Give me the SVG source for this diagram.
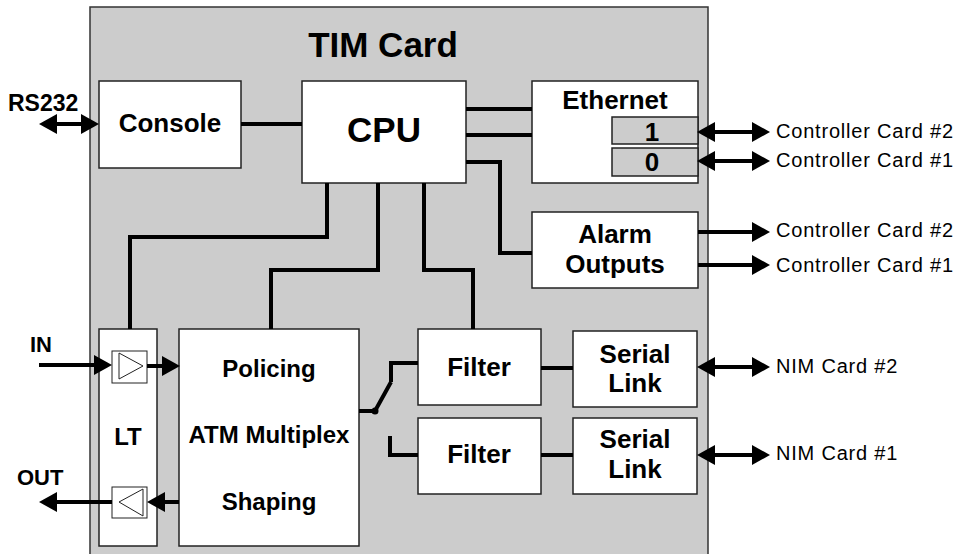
<svg xmlns="http://www.w3.org/2000/svg" width="960" height="554" viewBox="0 0 960 554">
<style>
.box{fill:#ffffff;stroke:#222;stroke-width:1.5}
.port{fill:#cccccc;stroke:#222;stroke-width:1.5}
.buf{fill:none;stroke:#222;stroke-width:1}
.b{font-family:"Liberation Sans",Arial,sans-serif;font-weight:bold;fill:#000;text-anchor:middle}
.lbl{font-family:"Liberation Sans",Arial,sans-serif;font-weight:bold;fill:#000}
.ext{font-family:"Liberation Sans",Arial,sans-serif;font-size:20px;letter-spacing:0.8px;fill:#000}
.c{fill:none;stroke:#000;stroke-width:4}
</style>
<defs>
<marker id="ah" viewBox="0 0 18 20" refX="14" refY="10" markerWidth="18" markerHeight="20" markerUnits="userSpaceOnUse" orient="auto-start-reverse">
<path d="M0,0 L18,10 L0,20 z" fill="#000"/>
</marker>
</defs>
<rect id="card" x="90" y="7" width="618" height="560" fill="#cccccc" stroke="#333" stroke-width="1.5"/>
<text class="b" x="383" y="57" font-size="35">TIM Card</text>

<g id="console">
<rect class="box" x="99" y="81" width="142" height="87"/>
<text class="b" x="170" y="132" font-size="26">Console</text>
</g>
<g id="cpu">
<rect class="box" x="302" y="81" width="164" height="102"/>
<text class="b" x="384" y="142" font-size="35">CPU</text>
</g>
<g id="ethernet">
<rect class="box" x="532" y="81" width="166" height="102"/>
<text class="b" x="615" y="109" font-size="26">Ethernet</text>
<rect class="port" x="612" y="117" width="86" height="27"/>
<text class="b" x="652" y="141" font-size="26">1</text>
<rect class="port" x="612" y="148" width="86" height="28"/>
<text class="b" x="652" y="171" font-size="26">0</text>
</g>
<g id="alarm">
<rect class="box" x="532" y="212" width="166" height="76"/>
<text class="b" x="615" y="243" font-size="26">Alarm</text>
<text class="b" x="615" y="273" font-size="26">Outputs</text>
</g>
<g id="lt">
<rect class="box" x="99" y="329" width="58" height="217"/>
<text class="b" x="128" y="445" font-size="24">LT</text>
<rect class="buf" x="112" y="351" width="35" height="32"/>
<polygon class="buf" points="119,353 143,366 119,379"/>
<rect class="buf" x="112" y="487" width="35" height="31"/>
<polygon class="buf" points="143,489 119,502 143,516"/>
</g>
<g id="mux">
<rect class="box" x="179" y="329" width="180" height="217"/>
<text class="b" x="269" y="377" font-size="24">Policing</text>
<text class="b" x="269" y="443" font-size="24">ATM Multiplex</text>
<text class="b" x="269" y="510" font-size="24">Shaping</text>
</g>
<g id="filter1">
<rect class="box" x="418" y="329" width="123" height="76"/>
<text class="b" x="479" y="376" font-size="26">Filter</text>
</g>
<g id="filter2">
<rect class="box" x="418" y="418" width="123" height="76"/>
<text class="b" x="479" y="463" font-size="26">Filter</text>
</g>
<g id="serial1">
<rect class="box" x="573" y="331" width="124" height="76"/>
<text class="b" x="635" y="363" font-size="26">Serial</text>
<text class="b" x="635" y="392" font-size="26">Link</text>
</g>
<g id="serial2">
<rect class="box" x="573" y="418" width="124" height="76"/>
<text class="b" x="635" y="448" font-size="26">Serial</text>
<text class="b" x="635" y="478" font-size="26">Link</text>
</g>

<g id="connectors">
<line class="c" x1="43" y1="124" x2="95" y2="124" marker-start="url(#ah)" marker-end="url(#ah)"/>
<line class="c" x1="241" y1="124" x2="302" y2="124"/>
<line class="c" x1="466" y1="109" x2="532" y2="109"/>
<line class="c" x1="466" y1="135" x2="532" y2="135"/>
<polyline class="c" points="466,162 500,162 500,253 532,253"/>
<polyline class="c" points="327,183 327,237 130,237 130,329"/>
<polyline class="c" points="378,183 378,270 271,270 271,329"/>
<polyline class="c" points="424,183 424,270 473,270 473,329"/>
<line class="c" x1="701" y1="132" x2="766" y2="132" marker-start="url(#ah)" marker-end="url(#ah)"/>
<line class="c" x1="701" y1="161" x2="766" y2="161" marker-start="url(#ah)" marker-end="url(#ah)"/>
<line class="c" x1="698" y1="232" x2="766" y2="232" stroke-width="5" marker-end="url(#ah)"/>
<line class="c" x1="698" y1="265" x2="766" y2="265" stroke-width="3" marker-end="url(#ah)"/>
<line class="c" x1="541" y1="368" x2="573" y2="368"/>
<line class="c" x1="541" y1="455" x2="573" y2="455" stroke-width="5"/>
<polyline class="c" points="359,411 375,411 391,382"/>
<polyline class="c" points="391,382 391,363 418,363" stroke-width="3.5"/>
<circle cx="375" cy="411" r="3.5" fill="#000"/>
<polyline class="c" points="390,436 390,455 418,455"/>
<line class="c" x1="701" y1="367" x2="766" y2="367" marker-start="url(#ah)" marker-end="url(#ah)"/>
<line class="c" x1="701" y1="455" x2="766" y2="455" marker-start="url(#ah)" marker-end="url(#ah)"/>
<line class="c" x1="39" y1="365" x2="108" y2="365" marker-end="url(#ah)"/>
<line class="c" x1="147" y1="366" x2="176" y2="366" marker-end="url(#ah)"/>
<line class="c" x1="179" y1="502" x2="151" y2="502" marker-end="url(#ah)"/>
<line class="c" x1="112" y1="502" x2="43" y2="502" marker-end="url(#ah)"/>
</g>

<g id="labels">
<text class="lbl" x="8" y="111" font-size="23">RS232</text>
<text class="lbl" x="30" y="352" font-size="22">IN</text>
<text class="lbl" x="17" y="485" font-size="22">OUT</text>
<text class="ext" x="776" y="138">Controller Card #2</text>
<text class="ext" x="776" y="167">Controller Card #1</text>
<text class="ext" x="776" y="237">Controller Card #2</text>
<text class="ext" x="776" y="272">Controller Card #1</text>
<text class="ext" x="776" y="373">NIM Card #2</text>
<text class="ext" x="776" y="460">NIM Card #1</text>
</g>
</svg>
